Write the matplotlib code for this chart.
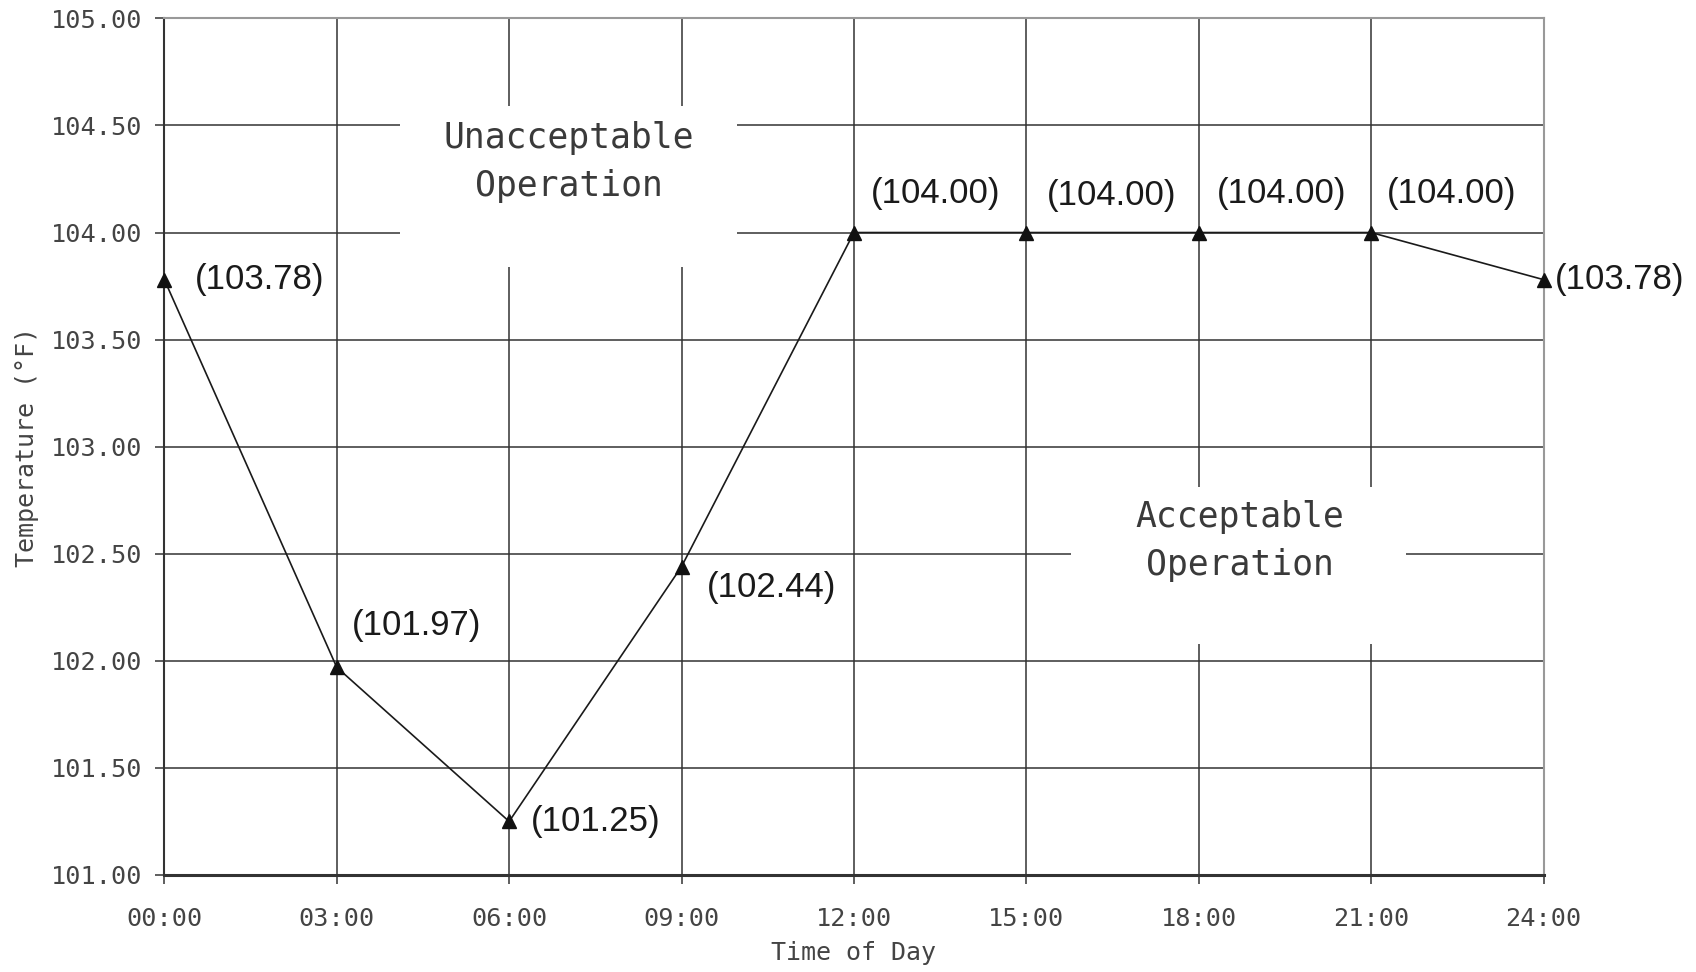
import matplotlib
matplotlib.use("Agg")
import matplotlib.pyplot as plt
from matplotlib import font_manager
from matplotlib.patches import Rectangle

# ---- data ----
hours = [0, 3, 6, 9, 12, 15, 18, 21, 24]
temps = [103.78, 101.97, 101.25, 102.44, 104.00, 104.00, 104.00, 104.00, 103.78]
x_tick_labels = ["00:00", "03:00", "06:00", "09:00", "12:00", "15:00", "18:00", "21:00", "24:00"]
y_ticks = [101.00, 101.50, 102.00, 102.50, 103.00, 103.50, 104.00, 104.50, 105.00]
# label offsets in points (dx, dy)
label_offsets = [(22, 0), (11, 30), (16, 0), (18, -15), (12, 28), (15, 27), (13, 28), (11.5, 28), (8, 0)]

available = {f.name for f in font_manager.fontManager.ttflist}
if "Liberation Sans Narrow" in available:
    label_font = "Liberation Sans Narrow"
    label_size = 29
else:
    label_font = "Liberation Sans"
    label_size = 25

mono = "DejaVu Sans Mono"
tick_col = "#444444"

fig = plt.figure(figsize=(16.96, 9.72), dpi=100)
ax = fig.add_axes([0.0969, 0.0998, 0.8132, 0.8813])

ax.set_xlim(0, 24)
ax.set_ylim(101, 105)
ax.set_xticks(hours)
ax.set_xticklabels(x_tick_labels)
ax.set_yticks(y_ticks)
ax.set_yticklabels([f"{v:.2f}" for v in y_ticks])

ax.set_axisbelow(True)
ax.grid(True, color="#333333", linewidth=1.1)

# white gaps behind the zone labels
ax.add_patch(Rectangle((4.1, 103.84), 9.96 - 4.1, 104.59 - 103.84,
                       facecolor="white", edgecolor="none", zorder=1))
ax.add_patch(Rectangle((15.78, 102.08), 21.61 - 15.78, 102.81 - 102.08,
                       facecolor="white", edgecolor="none", zorder=1))

ax.text(7.04, 104.33, "Unacceptable\nOperation", ha="center", va="center",
        family=mono, fontsize=25, color="#3a3a3a", linespacing=1.5, zorder=2)
ax.text(18.71, 102.56, "Acceptable\nOperation", ha="center", va="center",
        family=mono, fontsize=25, color="#3a3a3a", linespacing=1.5, zorder=2)

ax.plot(hours, temps, color="#1a1a1a", linewidth=1.2, marker="^",
        markersize=10, markerfacecolor="#111111", markeredgecolor="#111111",
        zorder=3, clip_on=False)

for h, t, (dx, dy) in zip(hours, temps, label_offsets):
    ax.annotate(f"({t:.2f})", xy=(h, t), xytext=(dx, dy), textcoords="offset points",
                ha="left", va="center", family=label_font, fontsize=label_size,
                color="#1a1a1a", annotation_clip=False, zorder=4)

for lab in ax.get_xticklabels() + ax.get_yticklabels():
    lab.set_family(mono)
    lab.set_fontsize(18.2)
    lab.set_color(tick_col)

ax.tick_params(axis="x", length=6.5, width=1.1, color="#333333", pad=16.5)
ax.tick_params(axis="y", length=6.5, width=1.1, color="#333333", pad=9.5)

ax.set_xlabel("Time of Day", family=mono, fontsize=18, color=tick_col, labelpad=7.5)
ax.set_ylabel("Temperature (°F)", family=mono, fontsize=18, color=tick_col, labelpad=8.5)

ax.spines["left"].set_color("#333333")
ax.spines["left"].set_linewidth(1.5)
ax.spines["bottom"].set_color("#333333")
ax.spines["bottom"].set_linewidth(2.2)
ax.spines["top"].set_color("#999999")
ax.spines["top"].set_linewidth(1.5)
ax.spines["right"].set_color("#999999")
ax.spines["right"].set_linewidth(1.5)

fig.savefig("out.png", dpi=100, facecolor="white")
